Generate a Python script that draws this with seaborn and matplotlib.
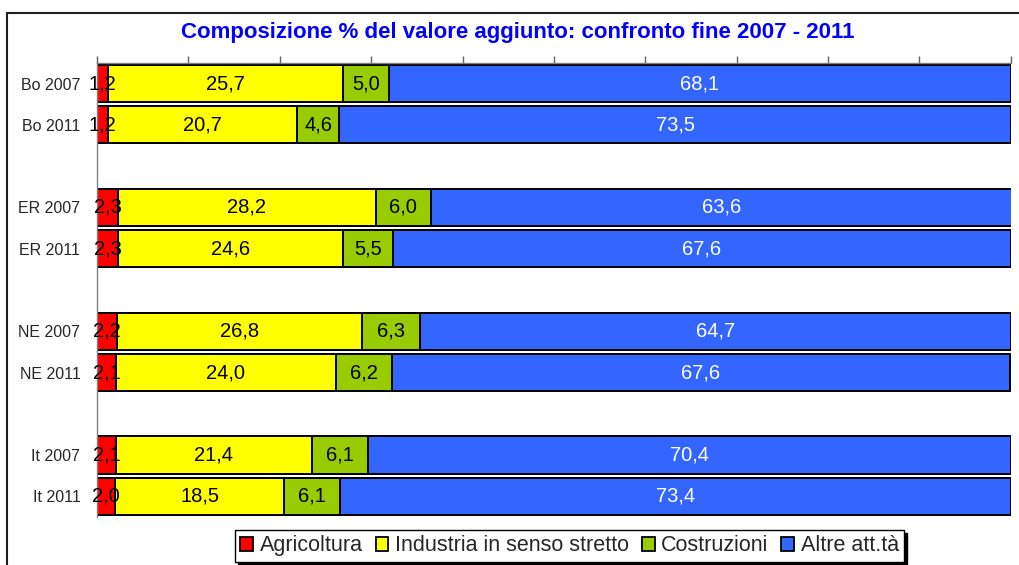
import matplotlib
matplotlib.use("Agg")
import matplotlib.pyplot as plt
from matplotlib.patches import Patch, Rectangle
import numpy as np
import pandas as pd
import seaborn as sns

# ── data ──────────────────────────────────────────────────────────────────────
ROWS        = ["Bo 2007", "Bo 2011", "ER 2007", "ER 2011",
               "NE 2007", "NE 2011", "It 2007", "It 2011"]
ORDER       = ["Bo 2007", "Bo 2011", " ", "ER 2007", "ER 2011", "  ",
               "NE 2007", "NE 2011", "   ", "It 2007", "It 2011"]
SECTORS     = ["Agricoltura", "Industria in senso stretto", "Costruzioni", "Altre att.tà"]
agricoltura = [1.2, 1.2, 2.3, 2.3, 2.2, 2.1, 2.1, 2.0]
industria   = [25.7, 20.7, 28.2, 24.6, 26.8, 24.0, 21.4, 18.5]
costruzioni = [5.0, 4.6, 6.0, 5.5, 6.3, 6.2, 6.1, 6.1]
altre       = [68.1, 73.5, 63.6, 67.6, 64.7, 67.6, 70.4, 73.4]

COLORS      = ["#FF0000", "#FFFF00", "#99CC00", "#3366FF"]
TEXT_COLORS = ["black", "black", "black", "white"]

# ── figure ────────────────────────────────────────────────────────────────────
sns.set_style("white")
plt.rcParams["font.family"] = ["Liberation Sans", "DejaVu Sans"]

fig = plt.figure(figsize=(10.19, 5.65), dpi=100)
ax = fig.add_axes([0.0952, 0.085, 0.8968, 0.8035])

df = pd.DataFrame({"row": ROWS, "a": agricoltura, "i": industria,
                   "c": costruzioni, "o": altre})
layers = [df["a"], df["i"], df["c"], df["o"]]
cums = np.cumsum(np.vstack(layers), axis=0)

# draw from the longest cumulative bar down so each segment shows
for k in range(3, -1, -1):
    sns.barplot(x=cums[k], y=df["row"], order=ORDER, orient="h",
                color=COLORS[k], saturation=1, edgecolor="black",
                linewidth=1.4, width=0.9, errorbar=None, ax=ax)

# value labels
for k in range(4):
    lefts = cums[k] - layers[k].values
    for r, (left, v) in enumerate(zip(lefts, layers[k].values)):
        ypos = ORDER.index(ROWS[r])
        ax.text(left + v / 2, ypos, f"{v:.1f}".replace(".", ","),
                ha="center", va="center", fontsize=14.5, color=TEXT_COLORS[k])

ax.set_xlim(0, 100)
ax.set_ylim(10.5, -0.5)
ax.set_xlabel("")
ax.set_ylabel("")
ax.xaxis.tick_top()
ax.set_xticks(np.arange(0, 101, 10))
ax.set_xticklabels([])
ax.tick_params(axis="x", direction="out", length=5, width=1, color="#606060")
ax.tick_params(axis="y", length=0, pad=12, labelsize=11.5)
for side in ["right", "bottom"]:
    ax.spines[side].set_visible(False)
for side in ["left", "top"]:
    ax.spines[side].set_color("#808080")
    ax.spines[side].set_linewidth(1)

fig.text(0.508, 0.943, "Composizione % del valore aggiunto: confronto fine 2007 - 2011",
         ha="center", va="center", fontsize=16, fontweight="bold", color="#0000FF")

# outer chart frame (left & top edges visible)
fig.add_artist(Rectangle((7 / 1019, -0.1), 1.2, 1.1 - 13 / 565,
                         transform=fig.transFigure, fill=False,
                         edgecolor="#202020", linewidth=1.5))

handles = [Patch(facecolor=c, edgecolor="black", linewidth=1.3) for c in COLORS]
leg = fig.legend(handles, SECTORS, loc="center", bbox_to_anchor=(0.559, 0.034),
                 ncol=4, fontsize=15.5, frameon=True, fancybox=False,
                 shadow={"color": "black", "alpha": 1},
                 handlelength=0.6, handleheight=0.6, handletextpad=0.3,
                 columnspacing=0.6, borderpad=0.25, borderaxespad=0)
leg.get_frame().set_edgecolor("black")
leg.get_frame().set_linewidth(1)

fig.savefig("out.png", dpi=100)
